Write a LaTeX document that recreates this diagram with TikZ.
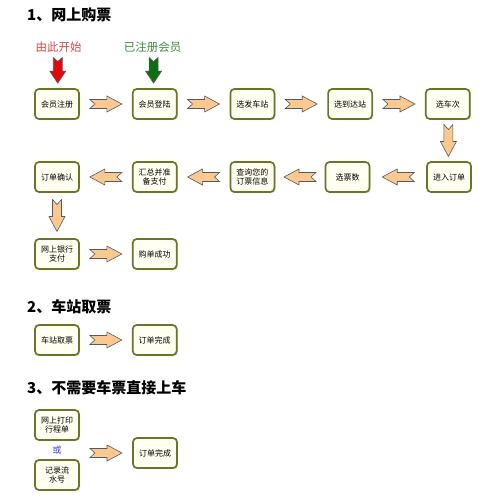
\documentclass[tikz,border=0pt]{standalone}
\usepackage{fontspec}
\newfontfamily\cjk{Noto Sans CJK SC}
\usetikzlibrary{positioning,calc,shadows}
\definecolor{boxline}{RGB}{105,118,40}
\definecolor{boxfill}{RGB}{255,255,242}
\definecolor{arrowfill}{RGB}{250,200,145}
\definecolor{startred}{RGB}{225,10,10}
\definecolor{startgreen}{RGB}{15,110,15}
\definecolor{lblred}{RGB}{215,70,70}
\definecolor{lblgreen}{RGB}{60,140,60}
\definecolor{orblue}{RGB}{60,60,200}
\tikzset{
  stepbox/.style={rectangle, rounded corners=4pt, draw=boxline, line width=1.7pt, fill=boxfill,
                  minimum width=44pt, minimum height=30pt, align=center,
                  font=\cjk\fontsize{8}{9.5}\selectfont, inner sep=1pt,
                  drop shadow={shadow xshift=1.2pt, shadow yshift=-1.2pt, opacity=0.25}},
  title/.style={anchor=west, font=\fontsize{15}{17}\selectfont\bfseries\cjk, inner sep=0pt},
  fat/.style={draw=black!65, fill=arrowfill, line width=0.6pt, line join=miter},
  lbl/.style={font=\cjk\fontsize{11.5}{13}\selectfont, inner sep=0pt},
}
% notched block arrow: [style]{centre}{angle}
\newcommand{\fatarrow}[3][fat]{%
  \draw[shift={#2}, rotate=#3, #1] (-16,4.5) -- (1,4.5) -- (1,8) -- (16,0) -- (1,-8)
    -- (1,-4.5) -- (-16,-4.5) -- (-11,0) -- cycle;}
\begin{document}
\begin{tikzpicture}[x=1pt, y=1pt, node distance=52pt]
  \useasboundingbox (0,0) rectangle (489,-500);

  % 1
  \node[title] (t1) at (27,-15) {1、网上购票};
  \node[lbl, text=lblred] (start) at (58.5,-47) {由此开始};
  \node[lbl, text=lblgreen] (member) at (152.5,-47) {已注册会员};

  \node[stepbox] (reg) at (57,-104) {会员注册};
  \node[stepbox, right=of reg] (login) {会员登陆};
  \node[stepbox, right=of login] (dep) {选发车站};
  \node[stepbox, right=of dep] (arr) {选到达站};
  \node[stepbox, right=of arr] (train) {选车次};

  \node[stepbox] (order) at (449,-177) {进入订单};
  \node[stepbox] (num) at (347.5,-177) {选票数};
  \node[stepbox] (query) at (dep |- order) {查询您的\\订票信息};
  \node[stepbox] (sum) at (login |- order) {汇总并准\\备支付};
  \node[stepbox] (confirm) at (reg |- order) {订单确认};

  \node[stepbox] (bank) at (57,-254) {网上银行\\支付};
  \node[stepbox, right=of bank] (done) {购单成功};

  \fatarrow[fat, fill=startred, xscale=0.8]{($(start.south)!0.5!(reg.north)$)}{-90}
  \fatarrow[fat, fill=startgreen, xscale=0.8]{($(member.south)!0.5!(login.north)$)}{-90}
  \fatarrow{($(reg.east)!0.5!(login.west)$)}{0}
  \fatarrow{($(login.east)!0.5!(dep.west)$)}{0}
  \fatarrow{($(dep.east)!0.5!(arr.west)$)}{0}
  \fatarrow{($(arr.east)!0.5!(train.west)$)}{0}
  \fatarrow{($(train.south)!0.5!(order.north)$)}{-90}
  \fatarrow{($(order.west)!0.5!(num.east)$)}{180}
  \fatarrow{($(num.west)!0.5!(query.east)$)}{180}
  \fatarrow{($(query.west)!0.5!(sum.east)$)}{180}
  \fatarrow{($(sum.west)!0.5!(confirm.east)$)}{180}
  \fatarrow{($(confirm.south)!0.5!(bank.north)$)}{-90}
  \fatarrow{($(bank.east)!0.5!(done.west)$)}{0}

  % 2
  \node[title] (t2) at (27,-307) {2、车站取票};
  \node[stepbox] (pick) at (57,-340) {车站取票};
  \node[stepbox, right=of pick] (fin2) {订单完成};
  \fatarrow{($(pick.east)!0.5!(fin2.west)$)}{0}

  % 3
  \node[title] (t3) at (27,-388) {3、不需要车票直接上车};
  \node[stepbox] (print) at (57,-425) {网上打印\\行程单};
  \node[stepbox] (serial) at (57,-475) {记录流\\水号};
  \node[font=\cjk\fontsize{9}{10}\selectfont, text=orblue] (or) at ($(print.south)!0.5!(serial.north)$) {或};
  \node[stepbox] (fin3) at (155,-453) {订单完成};
  \fatarrow{($(print.east |- fin3)!0.5!(fin3.west)$)}{0}
\end{tikzpicture}
\end{document}
